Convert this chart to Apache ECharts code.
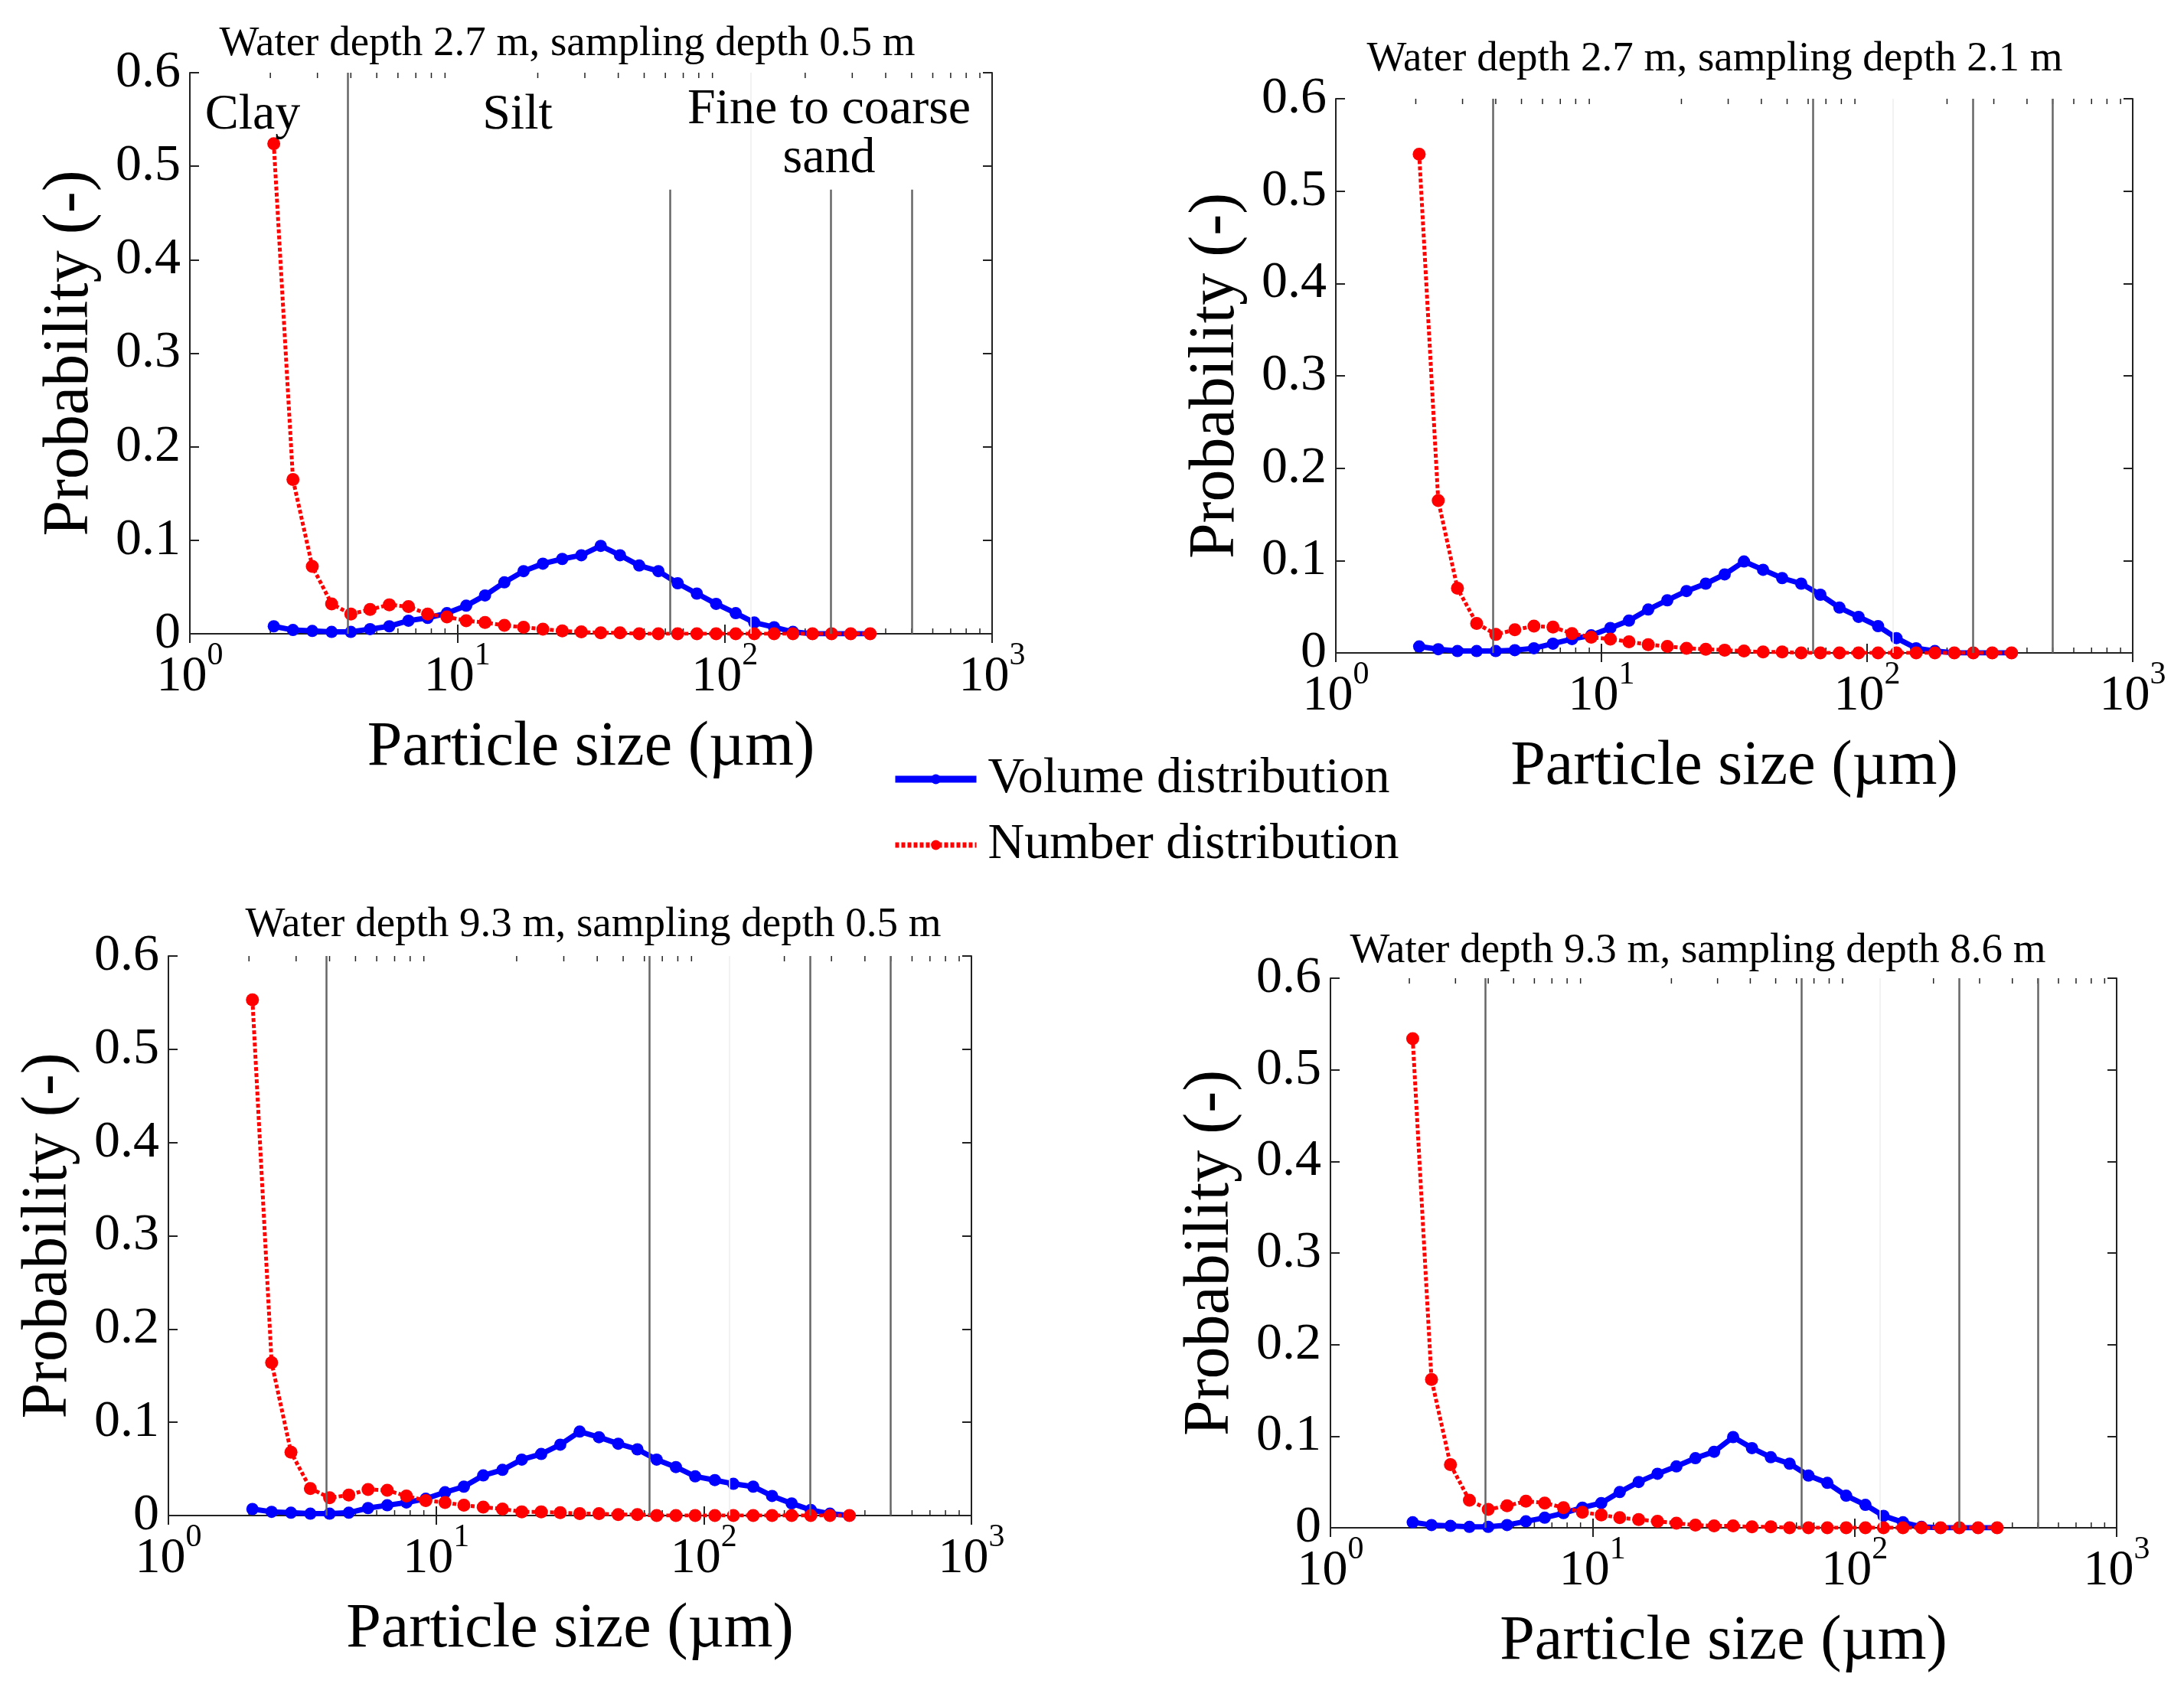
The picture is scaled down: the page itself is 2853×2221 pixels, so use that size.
<!DOCTYPE html>
<html><head><meta charset="utf-8">
<script src="https://cdn.jsdelivr.net/npm/echarts@6/dist/echarts.min.js"></script>
<style>html,body{margin:0;padding:0;background:#fff}#c{width:2853px;height:2221px}</style>
</head><body><div id="c"></div>
<script>
// Particle size bins (µm)
const sizes = [2.06, 2.43, 2.87, 3.39, 4.00, 4.72, 5.57, 6.57, 7.75, 9.15, 10.8, 12.7, 15.0, 17.7, 20.9, 24.7, 29.1, 34.4, 40.6, 47.9, 56.5, 66.7, 78.7, 92.9, 110, 129, 153, 180, 213, 251, 296, 350];

const titles = [
  'Water depth 2.7 m, sampling depth 0.5 m',
  'Water depth 2.7 m, sampling depth 2.1 m',
  'Water depth 9.3 m, sampling depth 0.5 m',
  'Water depth 9.3 m, sampling depth 8.6 m'
];

const volume1 = [0.008,0.004,0.003,0.002,0.002,0.005,0.008,0.014,0.017,0.022,0.030,0.041,0.055,0.067,0.075,0.080,0.084,0.094,0.084,0.073,0.067,0.054,0.043,0.032,0.022,0.012,0.007,0.002,0,0,0,0];
const number1 = [0.524,0.165,0.072,0.032,0.021,0.026,0.031,0.029,0.021,0.018,0.014,0.012,0.009,0.007,0.005,0.003,0.002,0.001,0.001,0,0,0,0,0,0,0,0,0,0,0,0,0];

const volume2 = [0.007,0.004,0.002,0.002,0.002,0.003,0.005,0.010,0.015,0.019,0.027,0.035,0.047,0.057,0.067,0.075,0.085,0.099,0.090,0.081,0.075,0.063,0.049,0.039,0.029,0.016,0.005,0.002,0,0,0,0];
const number2 = [0.540,0.165,0.070,0.032,0.020,0.025,0.029,0.028,0.021,0.017,0.015,0.012,0.009,0.007,0.005,0.004,0.003,0.002,0.001,0.001,0,0,0,0,0,0,0,0,0,0,0,0];

const volume3 = [0.007,0.004,0.003,0.002,0.002,0.003,0.008,0.011,0.014,0.018,0.025,0.031,0.043,0.049,0.060,0.066,0.076,0.090,0.084,0.077,0.071,0.060,0.052,0.042,0.038,0.034,0.031,0.021,0.013,0.006,0.002,0];
const number3 = [0.553,0.164,0.068,0.029,0.019,0.022,0.028,0.027,0.021,0.016,0.014,0.011,0.009,0.007,0.004,0.004,0.003,0.002,0.002,0.001,0.001,0,0,0,0,0,0,0,0,0,0,0];

const volume4 = [0.006,0.003,0.002,0.001,0.001,0.003,0.007,0.011,0.016,0.022,0.027,0.039,0.050,0.059,0.067,0.076,0.083,0.099,0.087,0.077,0.070,0.057,0.049,0.035,0.025,0.013,0.006,0.001,0,0,0,0];
const number4 = [0.534,0.162,0.069,0.030,0.020,0.024,0.029,0.027,0.022,0.017,0.014,0.011,0.009,0.007,0.005,0.003,0.002,0.002,0.001,0.001,0,0,0,0,0,0,0,0,0,0,0,0];

const volumes = [volume1, volume2, volume3, volume4];
const numbers = [number1, number2, number3, number4];

// Sediment class boundaries (µm)
const boundaries = [3.9, 62.5, 250, 500];
const faintBoundaries = [125];
const minorTicks = [2,3,4,5,6,7,8,9,20,30,40,50,60,70,80,90,200,300,400,500,600,700,800,900];
const regionLabels = ['Clay', 'Silt', 'Fine to coarse', 'sand'];
const seriesNames = ['Volume distribution', 'Number distribution'];

const FONT = '"Liberation Serif", "Times New Roman", serif';
const BLUE = '#0000ff', RED = '#ff0000';

const grids = [
  {left: 248, top: 95, width: 1048, height: 733},
  {left: 1745, top: 129, width: 1041, height: 724},
  {left: 220, top: 1249, width: 1049, height: 731},
  {left: 1738, top: 1278, width: 1027, height: 718}
];
const titlePos = [[741, 58], [2240, 78], [775, 1209], [2218, 1243]];

const xAxes = [], yAxes = [], series = [];
const axisLineStyle = {color: '#222', width: 2};

grids.forEach((g, i) => {
  xAxes.push({
    type: 'log', logBase: 10, min: 1, max: 1000, gridIndex: i, position: 'bottom',
    name: 'Particle size (µm)', nameLocation: 'middle', nameGap: 108,
    nameTextStyle: {fontFamily: FONT, fontSize: 82, color: '#000'},
    axisLine: {show: true, lineStyle: axisLineStyle},
    axisTick: {show: true, inside: true, length: 12, lineStyle: {color: '#222', width: 2}},
    splitLine: {show: false}, minorTick: {show: false},
    axisLabel: {
      margin: 24, color: '#000',
      formatter: v => '{b|10}{s|' + Math.round(Math.log10(v)) + '}',
      rich: {
        b: {fontFamily: FONT, fontSize: 66, lineHeight: 66, verticalAlign: 'bottom', color: '#000'},
        s: {fontFamily: FONT, fontSize: 42, lineHeight: 42, padding: [0, 0, 40, 0], verticalAlign: 'bottom', color: '#000'}
      }
    }
  });
  xAxes.push({
    type: 'log', logBase: 10, min: 1, max: 1000, gridIndex: i, position: 'top',
    axisLine: {show: true, lineStyle: axisLineStyle},
    axisTick: {show: true, inside: true, length: 12, lineStyle: {color: '#222', width: 2}},
    axisLabel: {show: false}, splitLine: {show: false}
  });
  yAxes.push({
    type: 'value', min: 0, max: 0.6, interval: 0.1, gridIndex: i, position: 'left',
    name: 'Probability (-)', nameLocation: 'middle', nameGap: 114,
    nameTextStyle: {fontFamily: FONT, fontSize: 84, color: '#000'},
    axisLine: {show: true, lineStyle: axisLineStyle},
    axisTick: {show: true, inside: true, length: 12, lineStyle: {color: '#222', width: 2}},
    splitLine: {show: false},
    axisLabel: {margin: 12, fontFamily: FONT, fontSize: 68, color: '#000',
      formatter: v => v === 0 ? '0' : v.toFixed(1)}
  });
  yAxes.push({
    type: 'value', min: 0, max: 0.6, interval: 0.1, gridIndex: i, position: 'right',
    axisLine: {show: true, lineStyle: axisLineStyle},
    axisTick: {show: true, inside: true, length: 12, lineStyle: {color: '#222', width: 2}},
    splitLine: {show: false}, axisLabel: {show: false}
  });

  // class boundary lines
  let mlData;
  if (i === 0) {
    mlData = [{xAxis: boundaries[0]}].concat(
      boundaries.slice(1).map(b => [{coord: [b, 0]}, {coord: [b, 0.475]}]));
  } else {
    mlData = boundaries.map(b => ({xAxis: b}));
  }
  series.push({
    type: 'line', name: 'bounds' + i, xAxisIndex: 2 * i, yAxisIndex: 2 * i, data: [], z: 1,
    markLine: {silent: true, symbol: 'none', animation: false, label: {show: false},
      lineStyle: {color: '#666', width: 2.5, type: 'solid'}, data: mlData}
  });
  series.push({
    type: 'line', name: 'faint' + i, xAxisIndex: 2 * i, yAxisIndex: 2 * i, data: [], z: 1,
    markLine: {silent: true, symbol: 'none', animation: false, label: {show: false},
      lineStyle: {color: '#eeeeee', width: 1.5, type: 'solid'},
      data: faintBoundaries.map(b => ({xAxis: b}))}
  });
  series.push({
    type: 'custom', name: 'minor' + i, xAxisIndex: 2 * i, yAxisIndex: 2 * i, z: 2, silent: true,
    data: minorTicks.map(v => [v, 0]),
    renderItem: (params, api) => {
      const x = api.value(0);
      const b = api.coord([x, 0]);
      const t = api.coord([x, 0.6]);
      return {type: 'group', children: [
        {type: 'line', shape: {x1: b[0], y1: b[1], x2: b[0], y2: b[1] - 7}, style: {stroke: '#222', lineWidth: 1.5}},
        {type: 'line', shape: {x1: t[0], y1: t[1], x2: t[0], y2: t[1] + 7}, style: {stroke: '#222', lineWidth: 1.5}}
      ]};
    }
  });
  series.push({
    type: 'line', name: seriesNames[0], xAxisIndex: 2 * i, yAxisIndex: 2 * i, z: 3,
    data: sizes.map((s, k) => [s, volumes[i][k]]),
    symbol: 'circle', symbolSize: 16, showSymbol: true,
    lineStyle: {color: BLUE, width: 7}, itemStyle: {color: BLUE}, animation: false
  });
  series.push({
    type: 'line', name: seriesNames[1], xAxisIndex: 2 * i, yAxisIndex: 2 * i, z: 4,
    data: sizes.map((s, k) => [s, numbers[i][k]]),
    symbol: 'circle', symbolSize: 17, showSymbol: true,
    lineStyle: {color: RED, width: 5, type: [5, 3]}, itemStyle: {color: RED}, animation: false
  });
});

const graphics = titles.map((t, i) => ({
  type: 'text', x: titlePos[i][0], y: titlePos[i][1], z: 10,
  style: {text: t, font: '55px ' + FONT, fill: '#000', align: 'center', verticalAlign: 'middle'}
}));
const regionPos = [[330, 151], [676, 151], [1083, 144], [1083, 208]];
regionLabels.forEach((t, k) => graphics.push({
  type: 'text', x: regionPos[k][0], y: regionPos[k][1], z: 10,
  style: {text: t, font: '66px ' + FONT, fill: '#000', align: 'center', verticalAlign: 'middle'}
}));

const chart = echarts.init(document.getElementById('c'), null, {renderer: 'canvas', width: 2853, height: 2221});
chart.setOption({
  backgroundColor: '#fff',
  animation: false,
  grid: grids,
  xAxis: xAxes,
  yAxis: yAxes,
  legend: {
    data: [
      {name: seriesNames[0], lineStyle: {color: BLUE, width: 9, type: 'solid'}, itemStyle: {color: BLUE}},
      {name: seriesNames[1], lineStyle: {color: RED, width: 7, type: [5, 3]}, itemStyle: {color: RED}}
    ],
    orient: 'vertical', left: 1160, top: 980,
    itemWidth: 106, itemHeight: 16, itemGap: 20,
    textStyle: {fontFamily: FONT, fontSize: 66, color: '#000', padding: [0, 0, 0, 10]}
  },
  graphic: graphics,
  series: series
});
</script>
</body></html>
